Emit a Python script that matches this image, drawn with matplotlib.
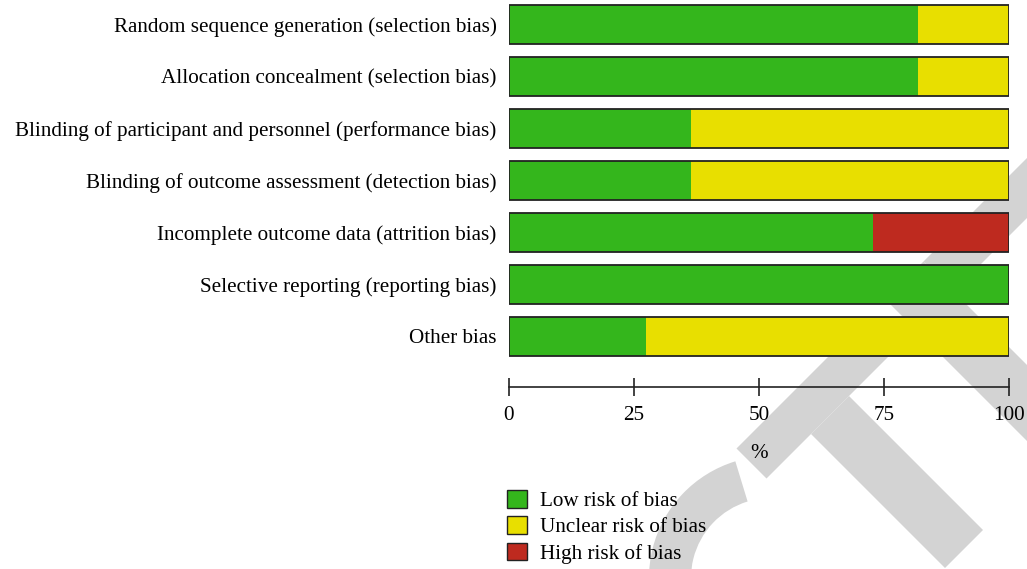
import numpy as np
import matplotlib
matplotlib.use("Agg")
import matplotlib.pyplot as plt
from matplotlib.patches import Patch, Polygon, Wedge

plt.rcParams['font.family'] = ['Liberation Serif', 'DejaVu Serif']

# --- risk of bias summary (percent of studies) ---
domains = ["Random sequence generation (selection bias)",
           "Allocation concealment (selection bias)",
           "Blinding of participant and personnel (performance bias)",
           "Blinding of outcome assessment (detection bias)",
           "Incomplete outcome data (attrition bias)",
           "Selective reporting (reporting bias)",
           "Other bias"]
low_risk = [81.8, 81.8, 36.4, 36.4, 72.7, 100.0, 27.3]
unclear_risk = [18.2, 18.2, 63.6, 63.6, 0.0, 0.0, 72.7]
high_risk = [0.0, 0.0, 0.0, 0.0, 27.3, 0.0, 0.0]
legend_labels = ["Low risk of bias", "Unclear risk of bias", "High risk of bias"]
xticks = [0, 25, 50, 75, 100]

green = "#34B61C"
yellow = "#E8DF00"
red = "#BE2A1F"
edge = "#222222"
fs = 15.2

W, H = 1027, 569
fig = plt.figure(figsize=(W / 100, H / 100), dpi=100)

# watermark layer (pixel coords), behind everything
bg = fig.add_axes([0, 0, 1, 1], zorder=0)
bg.set_xlim(0, W)
bg.set_ylim(H, 0)
bg.axis("off")
wm = "#d3d3d3"

def band(d0, d1, s0, s1):
    # rectangle in rotated coords s=x+y, d=x-y
    pts = [(s0, d0), (s0, d1), (s1, d1), (s1, d0)]
    return Polygon([((s + d) / 2, (s - d) / 2) for s, d in pts], closed=True,
                   facecolor=wm, edgecolor="none")

bg.add_patch(band(288, 542, 1185, 1245))   # T bar
bg.add_patch(band(377, 453, 1245, 1513))   # T stem
bg.add_patch(band(586, 662, 1185, 1513))   # E spine
bg.add_patch(band(662, 950, 1185, 1245))   # E top arm
bg.add_patch(band(662, 950, 1453, 1513))   # E bottom arm
bg.add_patch(Wedge((771, 578), 122, 17, 253, width=42, facecolor=wm, edgecolor="none"))

# main chart
ax = fig.add_axes([509 / W, 1 - 386.7 / H, 500 / W, 386.7 / H], zorder=1)
ax.patch.set_alpha(0)
y = np.arange(len(domains))
h = 0.74
ax.barh(y, low_risk, height=h, color=green, edgecolor="none")
ax.barh(y, unclear_risk, left=low_risk, height=h, color=yellow, edgecolor="none")
ax.barh(y, high_risk, left=np.add(low_risk, unclear_risk), height=h, color=red, edgecolor="none")
totals = np.add(np.add(low_risk, unclear_risk), high_risk)
ax.barh(y, totals, height=h, fill=False, edgecolor=edge, linewidth=1.3)

ax.set_xlim(0, 100)
ax.set_ylim(6.966, -0.475)
ax.set_yticks(y)
ax.set_yticklabels(domains, fontsize=fs)
ax.tick_params(axis="y", length=0, pad=9)
ax.set_xticks(xticks)
ax.set_xticklabels([str(t) for t in xticks], fontsize=fs)
ax.tick_params(axis="x", direction="inout", length=13.5, width=1.2, color=edge, pad=7)
for s in ["left", "right", "top"]:
    ax.spines[s].set_visible(False)
ax.spines["bottom"].set_color(edge)
ax.spines["bottom"].set_linewidth(1.2)
ax.set_xlabel("%", fontsize=fs, labelpad=14)

handles = [Patch(facecolor=c, edgecolor=edge, linewidth=1.0) for c in [green, yellow, red]]
fig.legend(handles, legend_labels, loc="upper left", bbox_to_anchor=(507 / W, 1 - 490 / H),
           frameon=False, fontsize=fs, handlelength=0.95, handleheight=0.9,
           handletextpad=0.6, labelspacing=0.25, borderpad=0, borderaxespad=0)

fig.savefig("out.png", dpi=100)
